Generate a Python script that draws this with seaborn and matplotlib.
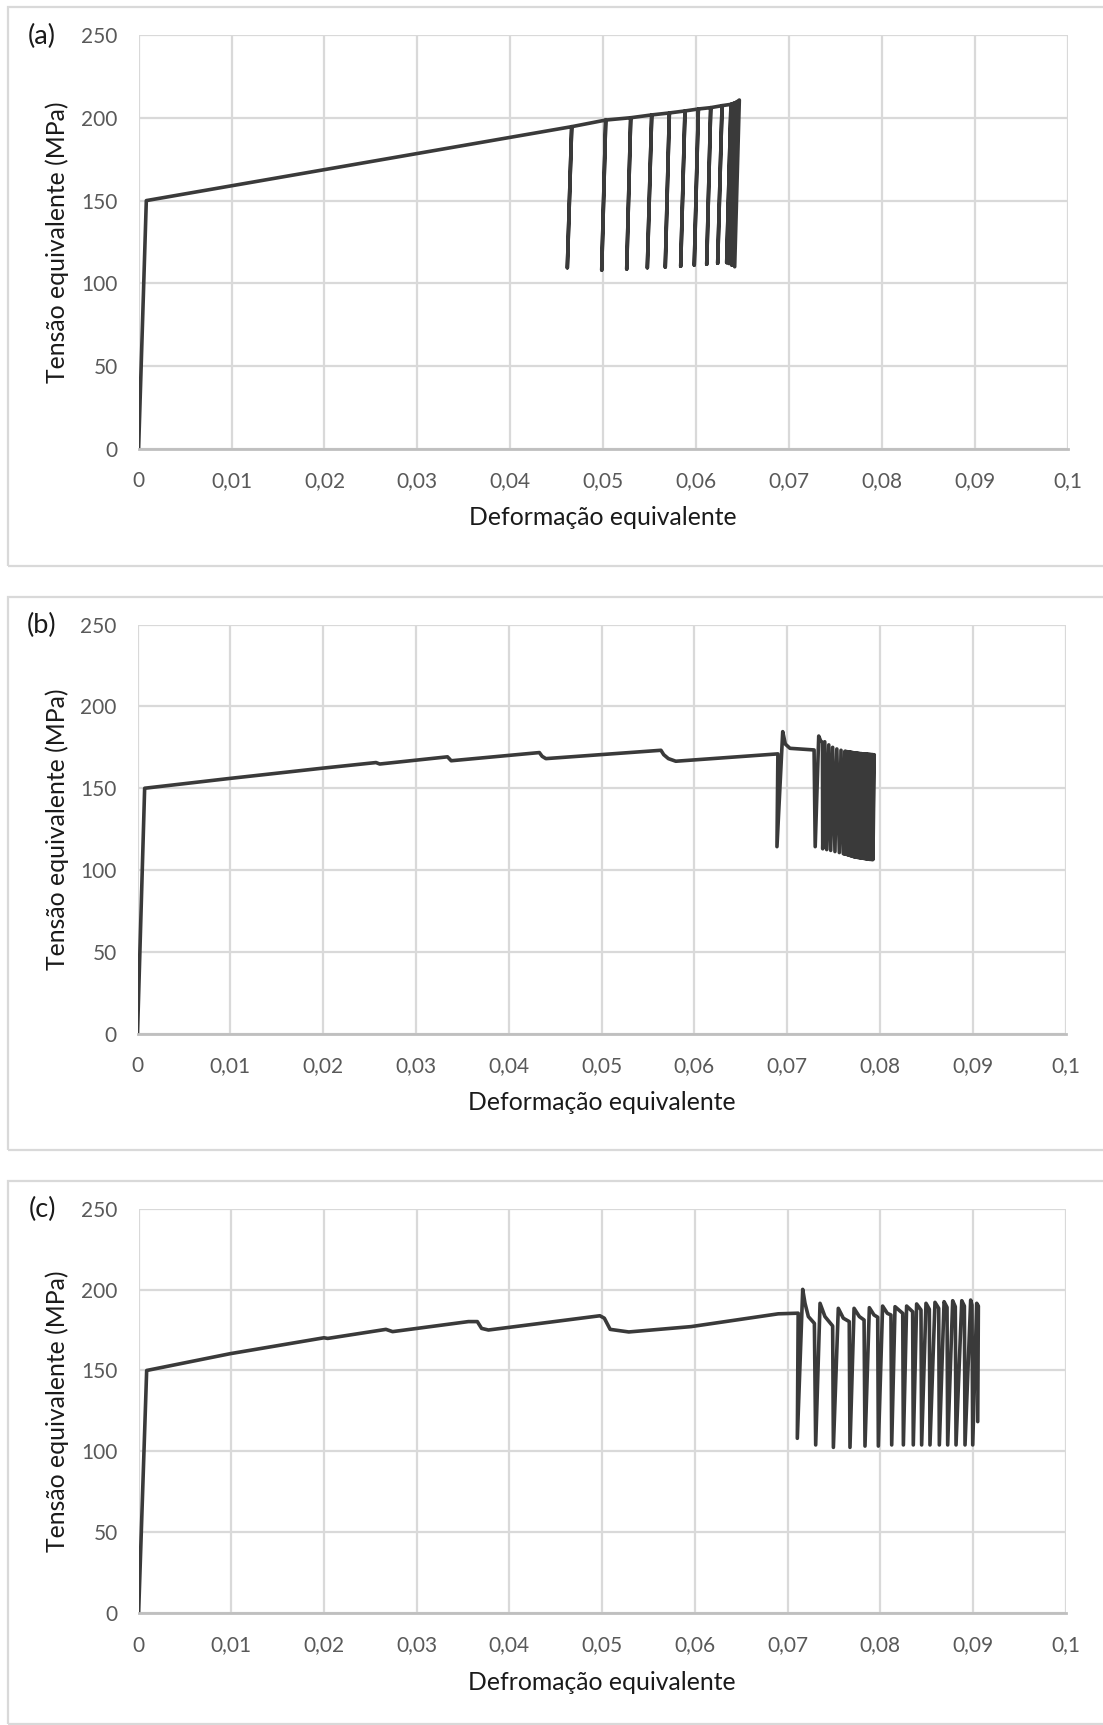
import numpy as np
import pandas as pd
import seaborn as sns
import matplotlib.pyplot as plt
from matplotlib.patches import Rectangle

# --- data (strain, equivalent stress in MPa) ---
strain_a = [0, 0.00083,
            0.04661, 0.04614, 0.04661,
            0.05027, 0.04984, 0.05027,
            0.05296, 0.05253, 0.05296,
            0.05522, 0.05475, 0.05522,
            0.05712, 0.05668, 0.05712,
            0.05880, 0.05834, 0.05880,
            0.06024, 0.05980, 0.06024,
            0.06157, 0.06114, 0.06157,
            0.06279, 0.06232, 0.06279,
            0.06375, 0.06329, 0.06375,
            0.06405, 0.06355, 0.06405,
            0.06435, 0.06385, 0.06435,
            0.06465, 0.06415]
stress_a = [0, 150,
            194.7, 109.4, 194.7,
            198.7, 108.0, 198.7,
            200.1, 108.6, 200.1,
            201.8, 109.4, 201.8,
            203.0, 109.8, 203.0,
            204.2, 110.3, 204.2,
            205.4, 111.0, 205.4,
            206.2, 111.5, 206.2,
            207.4, 112.1, 207.4,
            208.2, 112.5, 208.2,
            208.8, 112.0, 208.8,
            209.5, 111.0, 209.5,
            210.8, 110.0]

# (b) curve up to the dense unloading zone
strain_b = [0, 0.00077, 0.00995, 0.0200, 0.0257, 0.0261, 0.0334, 0.0338,
            0.0433, 0.0436, 0.0440, 0.0564, 0.0567, 0.0572, 0.0580, 0.0690,
            0.0689, 0.06952, 0.0698, 0.0703, 0.0729,
            0.07302, 0.07340, 0.0736, 0.0738,
            0.07383, 0.07405, 0.07426, 0.07448, 0.07469, 0.07490,
            0.07515, 0.07535, 0.07562, 0.07580, 0.07605, 0.07622]
stress_b = [0, 150, 156.0, 162.3, 165.7, 164.8, 169.2, 166.8,
            171.8, 169.5, 168.1, 173.2, 170.5, 168.1, 166.5, 171.0,
            114.3, 184.6, 177.0, 174.4, 173.4,
            114.3, 181.9, 179.0, 178.0,
            113.0, 178.4, 112.5, 176.5, 112.0, 175.0,
            111.3, 174.0, 110.7, 173.2, 110.0, 172.6]
# (b) dense unloading cycles: low point then high point of each
dense_b_low_x = [0.07616, 0.07627, 0.07638, 0.07649, 0.07660, 0.07671, 0.07682,
                 0.07693, 0.07704, 0.07715, 0.07726, 0.07737, 0.07748, 0.07759,
                 0.07770, 0.07781, 0.07792, 0.07803, 0.07814, 0.07825, 0.07836,
                 0.07847, 0.07858, 0.07869, 0.07880, 0.07891, 0.07902, 0.07913,
                 0.07924]
dense_b_low_y = [109.9, 109.8, 109.6, 109.4, 109.2, 109.0, 108.8,
                 108.6, 108.4, 108.2, 108.0, 107.9, 107.8, 107.7,
                 107.6, 107.5, 107.4, 107.3, 107.2, 107.1, 107.0,
                 106.9, 106.8, 106.7, 106.6, 106.5, 106.5, 106.4,
                 106.4]
dense_b_high_x = [0.07633, 0.07644, 0.07655, 0.07666, 0.07677, 0.07688, 0.07699,
                  0.07710, 0.07721, 0.07732, 0.07743, 0.07754, 0.07765, 0.07776,
                  0.07787, 0.07798, 0.07809, 0.07820, 0.07831, 0.07842, 0.07853,
                  0.07864, 0.07875, 0.07886, 0.07897, 0.07908, 0.07919, 0.07930,
                  0.07938]
dense_b_high_y = [172.5, 172.4, 172.3, 172.2, 172.1, 172.0, 171.9,
                  171.8, 171.7, 171.6, 171.5, 171.4, 171.4, 171.3,
                  171.2, 171.2, 171.1, 171.0, 171.0, 170.9, 170.9,
                  170.8, 170.8, 170.7, 170.7, 170.6, 170.6, 170.5,
                  170.5]

strain_c = [0, 0.00087, 0.0099, 0.0200, 0.0204, 0.02668, 0.0274, 0.03558,
            0.03654, 0.0370, 0.03774, 0.04976, 0.05024, 0.05087, 0.05288,
            0.0596, 0.0690, 0.07115,
            0.07106, 0.07164, 0.07189, 0.07225, 0.07290,
            0.07304, 0.07351, 0.07404, 0.07487,
            0.07495, 0.07548, 0.07602, 0.07666,
            0.07674, 0.07718, 0.07775, 0.07826,
            0.07836, 0.07883, 0.07933, 0.07973,
            0.07980, 0.08026, 0.08077, 0.08116,
            0.08124, 0.08160, 0.08243,
            0.08250, 0.08285, 0.08350,
            0.08357, 0.08393, 0.08440,
            0.08447, 0.08494, 0.08530,
            0.08537, 0.08591, 0.08631,
            0.08638, 0.08689, 0.08721,
            0.08728, 0.08782, 0.08810,
            0.08818, 0.08880, 0.08908,
            0.08915, 0.08976, 0.08990,
            0.08998, 0.09041, 0.09059, 0.09052]
stress_c = [0, 150, 160.4, 170.2, 169.8, 175.4, 174.0, 180.2,
            180.2, 176.0, 175.0, 183.8, 182.3, 175.4, 173.8,
            177.1, 185.0, 185.4,
            108.1, 200.1, 191.5, 183.3, 179.1,
            104.0, 191.5, 183.3, 177.5,
            102.5, 188.4, 182.3, 180.2,
            102.5, 188.4, 183.3, 181.2,
            103.3, 188.8, 184.3, 182.9,
            103.3, 189.8, 185.3, 184.3,
            104.0, 189.4, 185.3,
            104.0, 189.8, 186.3,
            104.0, 191.1, 187.4,
            104.0, 191.5, 187.8,
            104.0, 192.1, 188.4,
            104.0, 192.5, 189.0,
            104.0, 193.1, 189.4,
            104.0, 193.1, 189.8,
            104.0, 193.5, 190.4,
            104.0, 191.5, 189.8, 118.4]

panel_tags = ['(a)', '(b)', '(c)']
x_titles = ['Deformação equivalente', 'Deformação equivalente', 'Defromação equivalente']
y_title = 'Tensão equivalente (MPa)'
x_ticks = [0, 0.01, 0.02, 0.03, 0.04, 0.05, 0.06, 0.07, 0.08, 0.09, 0.1]
x_tick_labels = ['0', '0,01', '0,02', '0,03', '0,04', '0,05', '0,06', '0,07', '0,08', '0,09', '0,1']
y_ticks = [0, 50, 100, 150, 200, 250]

# join the dense cycles of (b) onto its main curve
for lx, ly, hx, hy in zip(dense_b_low_x, dense_b_low_y, dense_b_high_x, dense_b_high_y):
    strain_b += [lx, hx]
    stress_b += [ly, hy]

sns.set_theme(style='whitegrid')
plt.rcParams['font.family'] = ['Lato', 'DejaVu Sans']

W, H = 1103, 1725
fig = plt.figure(figsize=(W / 100, H / 100), dpi=100)

# axes boxes in pixels: left, right, top, bottom ; frame top, bottom
boxes = [(138.6, 1067.8, 35.2, 448.7, 7, 566),
         (137.5, 1065.6, 624.6, 1033.7, 597, 1150),
         (138.6, 1065.6, 1208.6, 1613.3, 1181, 1724)]
curves = [(strain_a, stress_a), (strain_b, stress_b), (strain_c, stress_c)]

line_col = '#3a3a3a'
grid_col = '#d9d9d9'
tick_col = '#595959'

for i, (l, r, t, b, ft, fb) in enumerate(boxes):
    # outer chart frame
    fig.add_artist(Rectangle((8 / W, 1 - fb / H), (W + 20 - 8) / W, (fb - ft) / H,
                             transform=fig.transFigure, fill=False,
                             edgecolor=grid_col, linewidth=1.6))
    ax = fig.add_axes([l / W, 1 - b / H, (r - l) / W, (b - t) / H])
    df = pd.DataFrame({'strain': curves[i][0], 'stress': curves[i][1]})
    sns.lineplot(data=df, x='strain', y='stress', sort=False, estimator=None,
                 color=line_col, linewidth=2.6, ax=ax)
    ax.set_xlim(0, 0.1)
    ax.set_ylim(0, 250)
    ax.set_xticks(x_ticks)
    ax.set_xticklabels(x_tick_labels)
    ax.set_yticks(y_ticks)
    ax.grid(True, color=grid_col, linewidth=1.6)
    ax.set_facecolor('white')
    for s in ['left', 'right', 'top']:
        ax.spines[s].set_visible(False)
    ax.spines['bottom'].set_color('#bfbfbf')
    ax.spines['bottom'].set_linewidth(2)
    ax.tick_params(axis='both', length=0, labelsize=15, labelcolor=tick_col)
    ax.tick_params(axis='x', pad=16)
    ax.tick_params(axis='y', pad=15)
    ax.set_xlabel(x_titles[i], fontsize=17.8, color='#1a1a1a', labelpad=11)
    ax.set_ylabel(y_title, fontsize=17.8, color='#1a1a1a')
    ax.yaxis.set_label_coords(-(l - 69) / (r - l), 0.5)
    fig.text(42 / W, 1 - (t + 1) / H, panel_tags[i], fontsize=19.5, color='#1a1a1a',
             ha='center', va='center')

fig.savefig('out.png', dpi=100, facecolor='white')
